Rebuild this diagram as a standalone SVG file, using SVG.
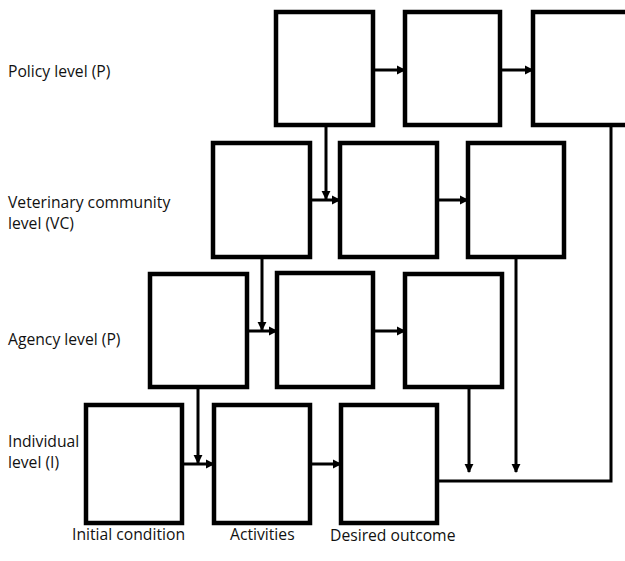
<svg xmlns="http://www.w3.org/2000/svg" width="625" height="561" viewBox="0 0 625 561">
<style>
.box{fill:#fff;stroke:#000;stroke-width:4.5}
.ln{fill:none;stroke:#000;stroke-width:3}
.arr{marker-end:url(#ah)}
text{font-family:"Open Sans","Liberation Sans",Arial,sans-serif;font-size:15.7px;fill:#111}
</style>
<defs>
<marker id="ah" viewBox="0 0 10 10" refX="9" refY="5" markerWidth="3" markerHeight="3.2" orient="auto" markerUnits="strokeWidth">
<path d="M0,0 L10,5 L0,10 z" fill="#000"/>
</marker>
</defs>
<rect width="625" height="561" fill="#fff"/>
<g id="labels">
<text x="8" y="77">Policy level (P)</text>
<text x="8" y="208">Veterinary community</text>
<text x="8" y="229">level (VC)</text>
<text x="8" y="345">Agency level (P)</text>
<text x="8" y="447">Individual</text>
<text x="8" y="468">level (I)</text>
<text x="72" y="540">Initial condition</text>
<text x="230" y="540">Activities</text>
<text x="330" y="541">Desired outcome</text>
</g>
<g id="connectors">
<line class="ln arr" x1="373" y1="70" x2="405" y2="70"/>
<line class="ln arr" x1="500" y1="70" x2="533" y2="70"/>
<line class="ln arr" x1="326" y1="125" x2="326" y2="199"/>
<line class="ln arr" x1="310" y1="200" x2="340" y2="200"/>
<line class="ln arr" x1="437" y1="200" x2="468" y2="200"/>
<line class="ln arr" x1="262" y1="257" x2="262" y2="330"/>
<line class="ln arr" x1="247" y1="331" x2="277" y2="331"/>
<line class="ln arr" x1="373" y1="331" x2="405" y2="331"/>
<line class="ln arr" x1="198" y1="387" x2="198" y2="463"/>
<line class="ln arr" x1="182" y1="464" x2="214" y2="464"/>
<line class="ln arr" x1="310" y1="464" x2="341" y2="464"/>
<line class="ln arr" x1="469" y1="387" x2="469" y2="472"/>
<line class="ln arr" x1="516" y1="257" x2="516" y2="472"/>
<polyline class="ln" points="611,125 611,481 437,481"/>
</g>
<g id="p1"><rect class="box" x="276" y="12" width="97" height="113"/></g>
<g id="p2"><rect class="box" x="405" y="12" width="95" height="113"/></g>
<g id="p3"><rect class="box" x="533" y="12" width="100" height="113"/></g>
<g id="vc1"><rect class="box" x="213" y="143" width="97" height="114"/></g>
<g id="vc2"><rect class="box" x="340" y="143" width="97" height="114"/></g>
<g id="vc3"><rect class="box" x="468" y="143" width="96" height="114"/></g>
<g id="a1"><rect class="box" x="150" y="274" width="97" height="113"/></g>
<g id="a2"><rect class="box" x="277" y="273" width="96" height="114"/></g>
<g id="a3"><rect class="box" x="405" y="274" width="97" height="113"/></g>
<g id="i1"><rect class="box" x="86" y="405" width="96" height="118"/></g>
<g id="i2"><rect class="box" x="214" y="405" width="96" height="118"/></g>
<g id="i3"><rect class="box" x="341" y="405" width="96" height="118"/></g>
</svg>
